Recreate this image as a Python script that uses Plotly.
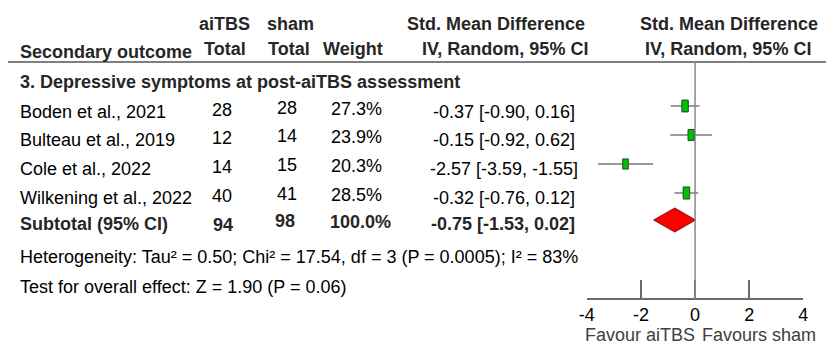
import plotly.graph_objects as go

# ---------------- data ----------------
studies = ["Boden et al., 2021", "Bulteau et al., 2019", "Cole et al., 2022", "Wilkening et al., 2022"]
aitbs_total = [28, 12, 14, 40]
sham_total = [28, 14, 15, 41]
weights = [27.3, 23.9, 20.3, 28.5]
est = [-0.37, -0.15, -2.57, -0.32]
lo = [-0.90, -0.92, -3.59, -0.76]
hi = [0.16, 0.62, -1.55, 0.12]
sub_label = "Subtotal (95% CI)"
sub_aitbs, sub_sham, sub_weight = 94, 98, 100.0
sub_est, sub_lo, sub_hi = -0.75, -1.53, 0.02
section_title = "3. Depressive symptoms at post-aiTBS assessment"
heterogeneity = "Heterogeneity: Tau² = 0.50; Chi² = 17.54, df = 3 (P = 0.0005); I² = 83%"
overall = "Test for overall effect: Z = 1.90 (P = 0.06)"
tick_vals = [-4, -2, 0, 2, 4]
tick_text = ["-4", "-2", "0", "2", "4"]
left_label = "Favour aiTBS"
right_label = "Favours sham"

# ---------------- layout helpers ----------------
W, H = 831, 351
FONT = "Liberation Sans, Arial, sans-serif"
FS = 18
mark_y = [106, 135, 164, 193]   # vertical position of the study boxes
text_y = [112, 140, 169, 198]   # vertical position of row texts
sub_mark_y = 220
sub_text_y = 224
AX_L, AX_R = 588, 808  # pixel positions of -4 and 4
AX_Y = 299


def px(x):
    return x / W


def fmt_ci(e, l, h):
    return f"{e:.2f} [{l:.2f}, {h:.2f}]"


fig = go.Figure()
ann = []


def text(s, x, y, anchor="left", bold=False, color="#000", size=FS):
    ann.append(dict(text=f"<b>{s}</b>" if bold else s, x=px(x), y=y, xref="paper", yref="y",
                    xanchor=anchor, yanchor="middle", showarrow=False,
                    font=dict(family=FONT, size=size, color=color)))


HC = "#262626"
# headers
text("aiTBS", 220, 24, "center", True, HC)
text("sham", 287, 24, "center", True, HC)
text("Std. Mean Difference", 496, 24, "center", True, HC)
text("Std. Mean Difference", 732, 24, "center", True, HC)
text("Secondary outcome", 10, 52, "left", True, HC)
text("Total", 220, 49, "center", True, HC)
text("Total", 285, 49, "center", True, HC)
text("Weight", 350, 49, "center", True, HC)
text("IV, Random, 95% CI", 505, 49, "center", True, HC)
text("IV, Random, 95% CI", 731, 49, "center", True, HC)

text(section_title, 10, 82, "left", True, HC)

for i, s in enumerate(studies):
    y = text_y[i]
    text(s, 10, y)
    text(str(aitbs_total[i]), 217, y - 2, "center")
    text(str(sham_total[i]), 283, y - 4, "center")
    text(f"{weights[i]:.1f}%", 354, y - 3, "center")
    text(fmt_ci(est[i], lo[i], hi[i]), 504, y, "center")

text(sub_label, 10, sub_text_y, "left", True, HC)
text(str(sub_aitbs), 218, sub_text_y + 1, "center", True, HC)
text(str(sub_sham), 281, sub_text_y - 3, "center", True, HC)
text(f"{sub_weight:.1f}%", 358, sub_text_y - 2, "center", True, HC)
text(fmt_ci(sub_est, sub_lo, sub_hi), 503, sub_text_y, "center", True, HC)

text(heterogeneity, 10, 257)
text(overall, 10, 287)

text(left_label, 700, 335, "right", False, "#404040")
text(right_label, 703, 335, "left", False, "#404040")

# ---------------- forest marks ----------------
for i in range(len(studies)):
    fig.add_trace(go.Scatter(x=[lo[i], hi[i]], y=[mark_y[i], mark_y[i]], mode="lines",
                             line=dict(color="#7a7a7a", width=1.5), hoverinfo="skip", showlegend=False))

shapes = []
# header rule
shapes.append(dict(type="line", xref="paper", yref="y", x0=0, x1=1, y0=62, y1=62,
                   line=dict(color="#555", width=1.5)))
# zero line
shapes.append(dict(type="line", xref="x", yref="y", x0=0, x1=0, y0=62, y1=AX_Y,
                   line=dict(color="#8a8a8a", width=1.5)))
# study boxes (size scales with weight)
for i in range(len(studies)):
    w = 6.5 * (weights[i] / 28.0) ** 0.5
    h = 12 * (weights[i] / 28.0) ** 0.5
    shapes.append(dict(type="rect", xref="x", yref="y", xsizemode="pixel", ysizemode="pixel",
                       xanchor=est[i], yanchor=mark_y[i], x0=-w / 2, x1=w / 2, y0=-h / 2, y1=h / 2,
                       fillcolor="#00c000", line=dict(color="#1f4f1f", width=1)))

fig.add_trace(go.Scatter(x=est, y=mark_y, mode="markers", marker=dict(size=1, opacity=0),
                         hovertext=studies, showlegend=False))

# diamond
fig.add_trace(go.Scatter(x=[sub_lo, sub_est, sub_hi, sub_est, sub_lo],
                         y=[sub_mark_y, sub_mark_y - 12, sub_mark_y, sub_mark_y + 12, sub_mark_y],
                         mode="lines", fill="toself", fillcolor="#ff0000",
                         line=dict(color="#7a1a1a", width=1), hoverinfo="skip", showlegend=False))

fig.update_layout(
    width=W, height=H, margin=dict(l=0, r=0, t=0, b=0),
    paper_bgcolor="white", plot_bgcolor="white",
    annotations=ann, shapes=shapes, showlegend=False,
    xaxis=dict(domain=[px(AX_L), px(AX_R)], range=[-4, 4], anchor="free",
               position=1 - AX_Y / H, showgrid=False, zeroline=False,
               showline=True, linecolor="#6a6a6a", linewidth=1.5,
               ticks="inside", ticklen=18, tickwidth=1.5, tickcolor="#6a6a6a",
               tickvals=tick_vals, ticktext=tick_text,
               tickfont=dict(family=FONT, size=FS, color="#000")),
    yaxis=dict(domain=[0, 1], range=[H, 0], visible=False, fixedrange=True),
)

fig.write_html("out.html")
